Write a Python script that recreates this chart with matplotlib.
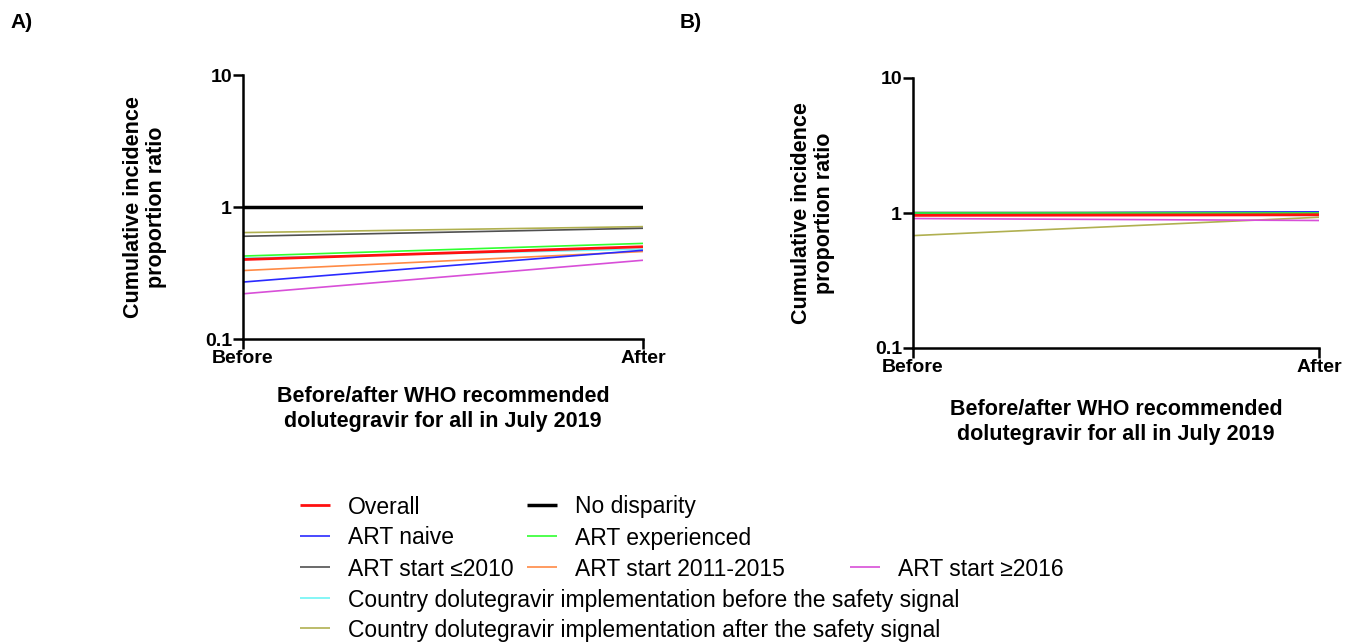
import matplotlib
matplotlib.use('Agg')
import matplotlib.pyplot as plt
from matplotlib.ticker import FixedLocator, NullLocator

plt.rcParams['font.family'] = ['Liberation Sans', 'DejaVu Sans']

# --- Data ---
periods = ['Before', 'After']

series_labels = [
    'Overall', 'No disparity', 'ART naive', 'ART experienced',
    'ART start \u22642010', 'ART start 2011-2015', 'ART start \u22652016',
    'Country dolutegravir implementation before the safety signal',
    'Country dolutegravir implementation after the safety signal',
]

# panel A
a_overall = [0.40, 0.50]
a_nodisp = [1.0, 1.0]
a_naive = [0.27, 0.47]
a_experienced = [0.425, 0.53]
a_le2010 = [0.60, 0.69]
a_2011_2015 = [0.33, 0.46]
a_ge2016 = [0.22, 0.395]
a_country_before = [0.41, 0.48]
a_country_after = [0.64, 0.71]

# panel B
b_overall = [0.96, 0.97]
b_nodisp = [1.0, 1.0]
b_naive = [0.99, 1.02]
b_experienced = [1.0, 1.0]
b_le2010 = [1.0, 1.01]
b_2011_2015 = [0.97, 0.98]
b_ge2016 = [0.91, 0.88]
b_country_before = [0.98, 0.96]
b_country_after = [0.68, 0.93]

# --- Styles ---
COLORS = {
    'Overall': '#ff1010',
    'No disparity': '#000000',
    'ART naive': '#2a2aff',
    'ART experienced': '#30ff30',
    'ART start \u22642010': '#505050',
    'ART start 2011-2015': '#ff8a45',
    'ART start \u22652016': '#d84fd8',
    'Country dolutegravir implementation before the safety signal': '#6ff5f5',
    'Country dolutegravir implementation after the safety signal': '#b0b050',
}
WIDTHS = {'Overall': 2.0, 'No disparity': 2.5}
# draw order (later on top)
DRAW_ORDER = [1, 7, 8, 4, 5, 6, 2, 3, 0]

XLABEL = 'Before/after WHO recommended\ndolutegravir for all in July 2019'
YLABEL = 'Cumulative incidence\nproportion ratio'

W, H = 1360, 644
fig = plt.figure(figsize=(W / 100, H / 100), dpi=100)


def px_axes(left, top, right, bottom):
    return fig.add_axes([left / W, 1 - bottom / H, (right - left) / W, (bottom - top) / H])


def draw_panel(ax, data, ylab_dx, xlab_dy):
    handles = {}
    for i in DRAW_ORDER:
        lbl = series_labels[i]
        ln, = ax.plot([0, 1], data[i], color=COLORS[lbl],
                      lw=WIDTHS.get(lbl, 1.2), solid_capstyle='butt', label=lbl)
        handles[lbl] = ln
    ax.set_yscale('log')
    ax.set_ylim(0.1, 10)
    ax.set_xlim(0, 1)
    ax.yaxis.set_major_locator(FixedLocator([0.1, 1, 10]))
    ax.yaxis.set_minor_locator(NullLocator())
    ax.set_yticklabels(['0.1', '1', '10'])
    ax.set_xticks([0, 1])
    ax.set_xticklabels(periods)
    for s in ['top', 'right']:
        ax.spines[s].set_visible(False)
    for s in ['left', 'bottom']:
        ax.spines[s].set_linewidth(1.8)
    ax.tick_params(axis='both', which='major', length=7, width=1.8, labelsize=14, pad=1)
    for t in ax.get_xticklabels() + ax.get_yticklabels():
        t.set_fontweight('bold')
    ax.set_ylabel(YLABEL, fontsize=15.5, fontweight='bold', linespacing=1.15)
    ax.yaxis.label.set_va('center')
    ax.yaxis.set_label_coords(ylab_dx, 0.5)
    ax.set_xlabel(XLABEL, fontsize=15.5, fontweight='bold', linespacing=1.2)
    ax.xaxis.label.set_va('center')
    ax.xaxis.set_label_coords(0.5, xlab_dy)
    ax.patch.set_alpha(0)
    return handles


ax_a = px_axes(243, 75, 643, 339)
ax_b = px_axes(913, 78, 1319, 348)

data_a = [a_overall, a_nodisp, a_naive, a_experienced, a_le2010, a_2011_2015,
          a_ge2016, a_country_before, a_country_after]
data_b = [b_overall, b_nodisp, b_naive, b_experienced, b_le2010, b_2011_2015,
          b_ge2016, b_country_before, b_country_after]

handles = draw_panel(ax_a, data_a, (145 - 243) / 400, -(409 - 339) / 264)
draw_panel(ax_b, data_b, (813 - 913) / 406, -(422 - 348) / 270)

fig.text(10 / W, 1 - 22 / H, 'A)', fontsize=15, fontweight='bold', va='center', ha='left')
fig.text(680 / W, 1 - 22 / H, 'B)', fontsize=15, fontweight='bold', va='center', ha='left')

# --- Legend, laid out entry by entry (x of handle start, y of row centre, in px) ---
LEG_POS = [
    (300, 507), (527, 507),
    (300, 538), (527, 538),
    (300, 569), (527, 569), (850, 569),
    (300, 600),
    (300, 630),
]
LEG_FS = 16.5
for i, (x, y) in enumerate(LEG_POS):
    lbl = series_labels[i]
    fig.legend(handles=[handles[lbl]], labels=[lbl], loc='center left',
               bbox_to_anchor=(x / W, 1 - y / H), frameon=False,
               fontsize=LEG_FS, handlelength=1.3, handletextpad=0.8,
               borderpad=0, borderaxespad=0)

fig.savefig('out.png', dpi=100)
